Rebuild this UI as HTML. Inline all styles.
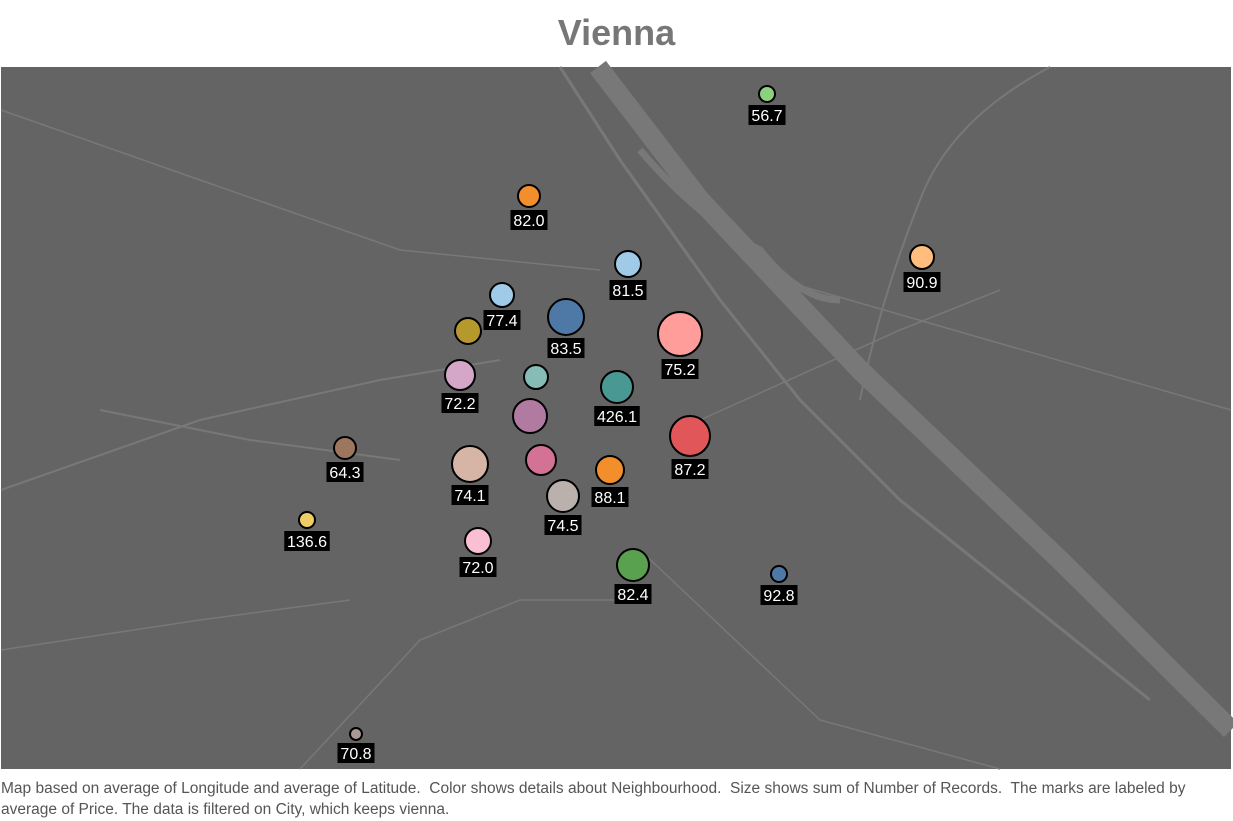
<!DOCTYPE html>
<html><head><meta charset="utf-8"><style>
body{margin:0;width:1233px;height:821px;background:#fff;font-family:"Liberation Sans",sans-serif;overflow:hidden;position:relative}
#title{position:absolute;left:0;width:1233px;top:12px;text-align:center;font-size:36px;font-weight:bold;color:#777}
#cap{position:absolute;left:1px;top:778px;width:1230px;font-size:15.5px;line-height:21px;color:#555;white-space:nowrap}
svg{position:absolute;left:0;top:0}
</style></head><body>
<div id="title">Vienna</div>
<svg width="1233" height="821">
<rect x="1" y="67" width="1230" height="702" fill="#646464"/>
<g stroke="#787878" fill="none">
<path d="M598 67 L700 200 L860 370 L1060 560 L1231 730" stroke-width="20"/>
<path d="M640 150 Q700 220 760 250 Q800 300 840 300" stroke-width="7"/>
<path d="M560 67 L620 160 L720 300 L800 400 L900 500 L1000 580 L1150 700" stroke-width="3"/>
<path d="M1 490 L200 420 L380 380 L500 360" stroke-width="2"/>
<path d="M100 410 L250 440 L400 460" stroke-width="2"/>
<path d="M1 110 L200 180 L400 250 L600 270" stroke-width="1.5"/>
<path d="M1050 67 Q950 120 920 200 Q880 300 860 400" stroke-width="2"/>
<path d="M780 280 L1231 410" stroke-width="1.5"/>
<path d="M640 550 L820 720 L1000 769" stroke-width="1.5"/>
<path d="M300 769 L420 640 L520 600 L640 600" stroke-width="1.5"/>
<path d="M700 420 L900 330 L1000 290" stroke-width="1.5"/>
<path d="M1 650 L200 620 L350 600" stroke-width="1.5"/>
</g>
<g id="marks"></g>
</svg>
<div id="cap">Map based on average of Longitude and average of Latitude.&nbsp; Color shows details about Neighbourhood.&nbsp; Size shows sum of Number of Records.&nbsp; The marks are labeled by<br>average of Price. The data is filtered on City, which keeps vienna.</div>
<script>
const xs=[767,529,628,922,502,566,468,680,460,536,617,530,690,345,470,541,610,563,307,478,633,779,356];
const ys=[94,196,264,257,295,317,331,334,375,377,387,416,436,448,464,460,470,496,520,541,565,574,734];
const sizes=[8,11,13,12,12,18,13,22,15,12,16,17,20,11,18,15,14,16,8,13,16,8,6];
const prices=["56.7","82.0","81.5","90.9","77.4","83.5","","75.2","72.2","","426.1","","87.2","64.3","74.1","","88.1","74.5","136.6","72.0","82.4","92.8","70.8"];
const colors=["#8cd17d","#f28e2b","#a0cbe8","#ffbe7d","#a0cbe8","#4e79a7","#b6992d","#ff9d9a","#d4a6c8","#86bcb6","#499894","#b07aa1","#e15759","#9d7660","#d7b5a6","#d37295","#f28e2b","#bab0ac","#f1ce63","#fabfd2","#59a14f","#4e79a7","#a89a94"];
const g=document.getElementById('marks');const NS="http://www.w3.org/2000/svg";
for(let i=0;i<xs.length;i++){
 const c=document.createElementNS(NS,'circle');
 c.setAttribute('cx',xs[i]);c.setAttribute('cy',ys[i]);c.setAttribute('r',sizes[i]);
 c.setAttribute('fill',colors[i]);c.setAttribute('stroke','#000');c.setAttribute('stroke-width','2');
 
 
 g.appendChild(c);
 if(prices[i]){
  const w=prices[i].length*8.5+3, ly=ys[i]+sizes[i]+3;
  const r=document.createElementNS(NS,'rect');
  r.setAttribute('x',xs[i]-w/2);r.setAttribute('y',ly);r.setAttribute('width',w);r.setAttribute('height',20);r.setAttribute('fill','#000');
  
  
  g.appendChild(r);
  const t=document.createElementNS(NS,'text');
  t.setAttribute('x',xs[i]);t.setAttribute('y',ly+16);t.setAttribute('text-anchor','middle');
  t.setAttribute('fill','#fff');t.setAttribute('font-size','16');t.setAttribute('font-family','Liberation Sans, sans-serif');
  t.textContent=prices[i];
  
  
  g.appendChild(t);
 }
}
</script>
</body></html>
